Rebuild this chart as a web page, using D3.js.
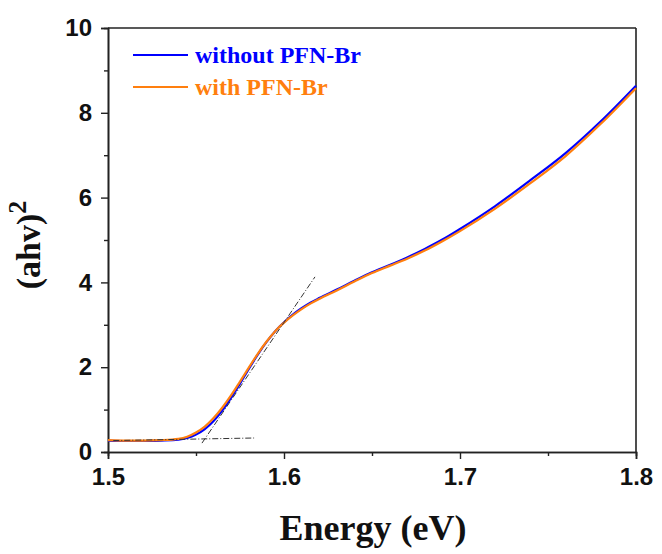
<!DOCTYPE html>
<html><head><meta charset="utf-8">
<script src="https://cdn.jsdelivr.net/npm/d3@7/dist/d3.min.js"></script>
<style>body{margin:0;background:#fff}</style></head>
<body><svg id="c" width="662" height="554"></svg>
<script>
const energy = [1.50,1.51,1.52,1.53,1.54,1.545,1.55,1.555,1.56,1.565,1.57,1.575,1.58,1.585,1.59,1.595,1.60,1.605,1.61,1.615,1.62,1.63,1.64,1.65,1.66,1.67,1.68,1.69,1.70,1.72,1.74,1.76,1.78,1.80];
const withPFN =    [0.28,0.27,0.27,0.28,0.31,0.36,0.46,0.60,0.80,1.05,1.34,1.66,1.99,2.31,2.60,2.85,3.05,3.22,3.37,3.50,3.61,3.81,4.02,4.22,4.39,4.56,4.75,4.97,5.21,5.74,6.34,6.98,7.74,8.58];
const withoutPFN = [0.27,0.26,0.26,0.27,0.29,0.33,0.41,0.54,0.73,0.98,1.28,1.61,1.96,2.29,2.59,2.85,3.06,3.24,3.39,3.52,3.63,3.83,4.04,4.24,4.41,4.59,4.79,5.01,5.26,5.80,6.41,7.05,7.80,8.64];
const tangentE = [1.5534,1.6176];
const tangentV = [0.21,4.13];
const baseE = [1.503,1.583];
const baseV = [0.27,0.33];
const xTicks = [1.5,1.6,1.7,1.8];
const yTicks = [0,2,4,6,8,10];
const legendLabels = ["without PFN-Br","with PFN-Br"];
const colors = ["#0000ff","#ff7f0e"];

const svg = d3.select("#c");
const L=108,R=636,T=28,B=452;
const x = d3.scaleLinear().domain([1.5,1.8]).range([L,R]);
const y = d3.scaleLinear().domain([0,10]).range([B,T]);

svg.append("g").attr("transform",`translate(0,${B})`)
  .call(d3.axisBottom(x).tickValues(xTicks).tickFormat(d3.format(".1f")).tickSize(7).tickPadding(9));
svg.append("g").attr("transform",`translate(0,${B})`)
  .call(d3.axisBottom(x).tickValues([1.55,1.65,1.75]).tickFormat("").tickSize(4));
svg.append("g").attr("transform",`translate(${L},0)`)
  .call(d3.axisLeft(y).tickValues(yTicks).tickFormat(d3.format("d")).tickSize(7).tickPadding(9));
svg.append("g").attr("transform",`translate(${L},0)`)
  .call(d3.axisLeft(y).tickValues([1,3,5,7,9]).tickFormat("").tickSize(4));
svg.selectAll(".domain").attr("stroke","#222").attr("stroke-width",1.6);
svg.selectAll(".tick line").attr("stroke","#222").attr("stroke-width",1.4);
svg.selectAll(".tick text").attr("font-family","Liberation Sans, Arial, sans-serif").attr("font-weight","bold").attr("font-size",24).attr("fill","#111");
svg.append("line").attr("x1",L).attr("x2",R).attr("y1",T).attr("y2",T).attr("stroke","#222").attr("stroke-width",1.6);
svg.append("line").attr("x1",R).attr("x2",R).attr("y1",T).attr("y2",B).attr("stroke","#222").attr("stroke-width",1.6);

const line = d3.line().x(d=>x(d[0])).y(d=>y(d[1])).curve(d3.curveMonotoneX);
svg.append("path").datum(energy.map((e,i)=>[e,withoutPFN[i]])).attr("d",line).attr("fill","none").attr("stroke",colors[0]).attr("stroke-width",2.2);
svg.append("path").datum(energy.map((e,i)=>[e,withPFN[i]])).attr("d",line).attr("fill","none").attr("stroke",colors[1]).attr("stroke-width",2.2);

const lin = d3.line().x(d=>x(d[0])).y(d=>y(d[1]));
svg.append("path").datum(tangentE.map((e,i)=>[e,tangentV[i]])).attr("d",lin).attr("fill","none").attr("stroke","#333").attr("stroke-width",1).attr("stroke-dasharray","6,2,1,2");
svg.append("path").datum(baseE.map((e,i)=>[e,baseV[i]])).attr("d",lin).attr("fill","none").attr("stroke","#333").attr("stroke-width",1).attr("stroke-dasharray","6,2,1,2");

legendLabels.forEach((lab,i)=>{
  const yy = 55 + i*32;
  svg.append("line").attr("x1",133).attr("x2",188).attr("y1",yy).attr("y2",yy).attr("stroke",colors[i]).attr("stroke-width",2);
  svg.append("text").attr("x",195).attr("y",yy+8).text(lab).attr("font-family","Liberation Serif, Times New Roman, serif").attr("font-weight","bold").attr("font-size",24).attr("fill",colors[i]);
});

svg.append("text").attr("x",373).attr("y",540).attr("text-anchor","middle").text("Energy (eV)")
  .attr("font-family","Liberation Serif, Times New Roman, serif").attr("font-weight","bold").attr("font-size",36).attr("fill","#111");
const yl = svg.append("text").attr("transform","translate(40,245) rotate(-90)").attr("text-anchor","middle")
  .attr("font-family","Liberation Serif, Times New Roman, serif").attr("font-weight","bold").attr("font-size",34).attr("fill","#111");
yl.append("tspan").text("(ahv)");
yl.append("tspan").text("2").attr("dy",-14).attr("font-size",26);
</script></body></html>
